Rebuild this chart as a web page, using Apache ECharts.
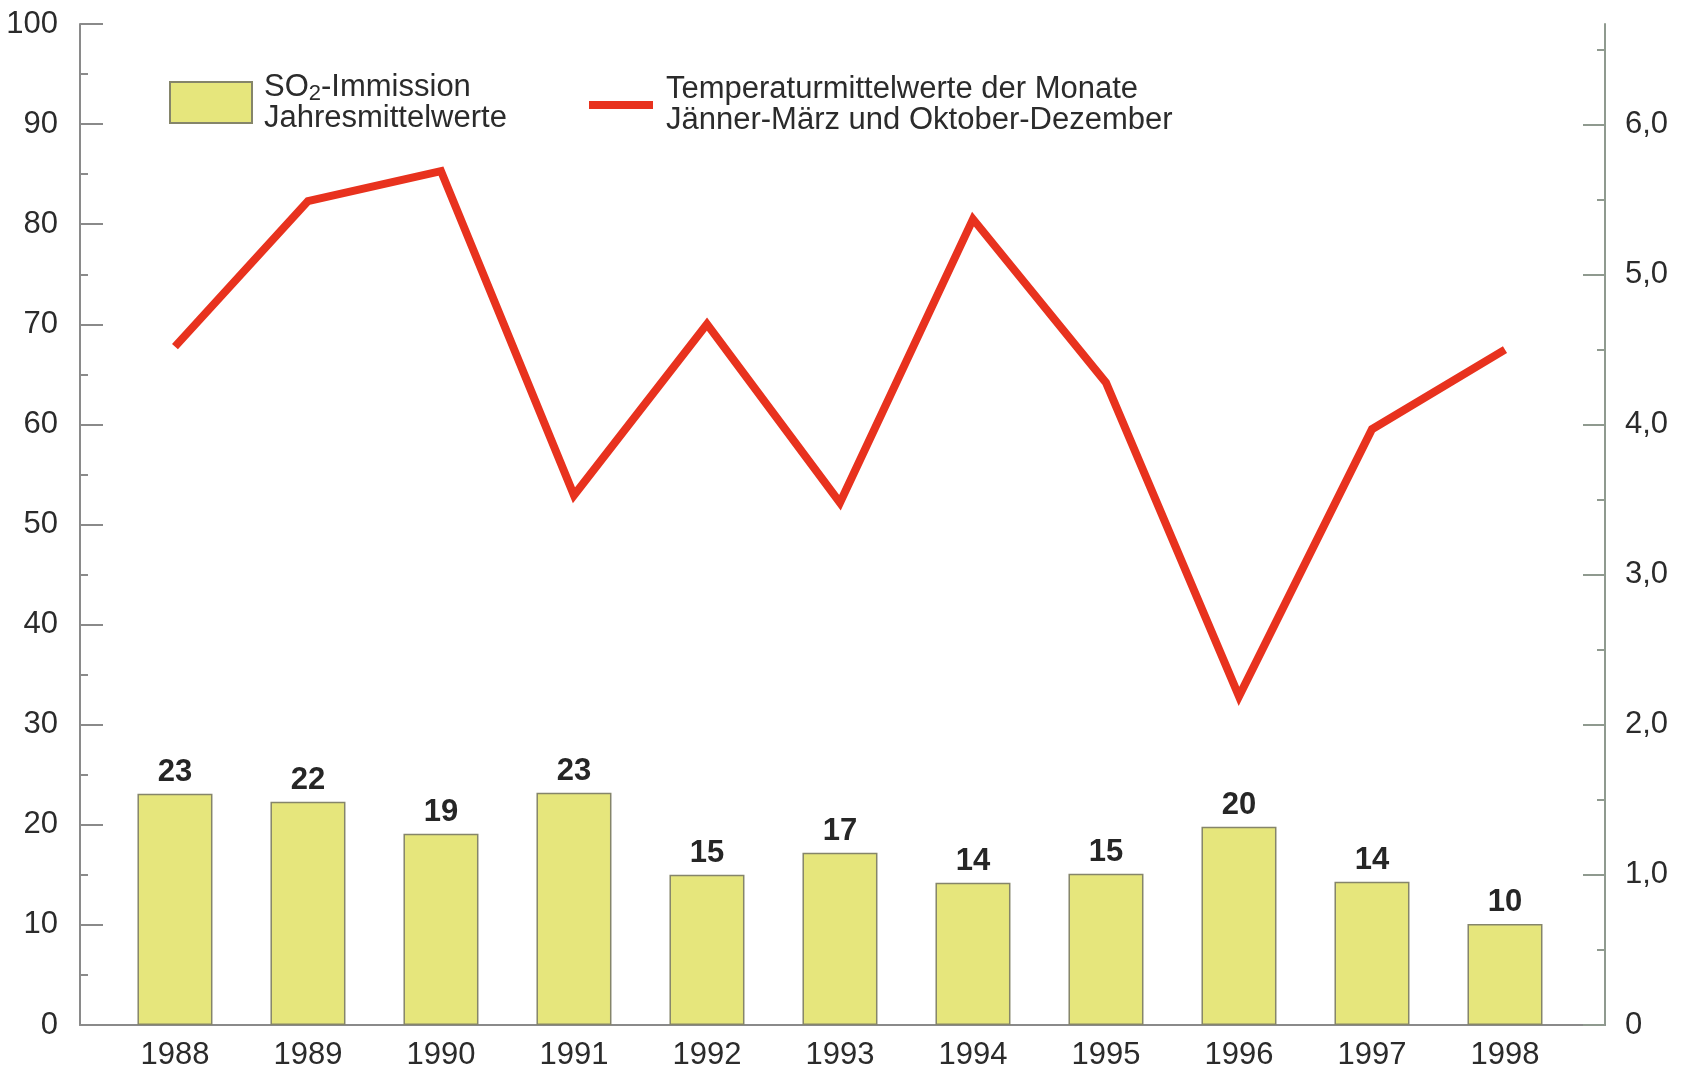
<!DOCTYPE html>
<html>
<head>
<meta charset="utf-8">
<script src="https://cdn.jsdelivr.net/npm/echarts@6/dist/echarts.min.js"></script>
<style>
  html, body { margin: 0; padding: 0; background: #fff; }
  #chart { width: 1687px; height: 1076px; }
</style>
</head>
<body>
<div id="chart"></div>
<script>
// Jahre
var years = ['1988', '1989', '1990', '1991', '1992', '1993', '1994', '1995', '1996', '1997', '1998'];
// SO2-Immission Jahresmittelwerte (linke Achse)
var so2 = [23.1, 22.3, 19.1, 23.2, 15.0, 17.2, 14.2, 15.1, 19.8, 14.3, 10.1];
// Temperaturmittelwerte (rechte Achse)
var temp = [4.52, 5.49, 5.69, 3.53, 4.67, 3.48, 5.37, 4.28, 2.19, 3.97, 4.50];
// Achsenbeschriftungen
var leftTicks = [0, 10, 20, 30, 40, 50, 60, 70, 80, 90, 100];
var rightTicks = [0, 1, 2, 3, 4, 5, 6];

var font = 'Liberation Sans, Arial, Helvetica, sans-serif';
var chart = echarts.init(document.getElementById('chart'));

var idx = years.map(function (y, i) { return i; });

var option = {
    animation: false,
    backgroundColor: '#fff',
    textStyle: { fontFamily: font },
    grid: { left: 80, right: 82, top: 24, bottom: 51, containLabel: false },
    legend: [
        {
            // Balken
            left: 164, top: 64,
            icon: 'rect',
            itemWidth: 82, itemHeight: 41,
            data: ['SO2'],
            formatter: function () {
                return '{a|SO}{sub|2}{a|-Immission}\n{a|Jahresmittelwerte}';
            },
            textStyle: {
                color: '#2b2b2b', fontFamily: font, padding: [0, 0, 0, 7],
                rich: {
                    a: { fontSize: 31, lineHeight: 31, fontFamily: font, color: '#2b2b2b' },
                    sub: { fontSize: 22, lineHeight: 31, padding: [14, 0, 0, 0], fontFamily: font, color: '#2b2b2b' }
                }
            }
        },
        {
            // Linie
            left: 584, top: 69,
            icon: 'rect',
            itemWidth: 64, itemHeight: 8,
            data: ['Temp'],
            formatter: function () {
                return 'Temperaturmittelwerte der Monate\nJänner-März und Oktober-Dezember';
            },
            textStyle: { color: '#2b2b2b', fontSize: 31, lineHeight: 31, fontFamily: font, padding: [0, 0, 0, 8] }
        }
    ],
    xAxis: {
        type: 'value',
        min: -0.714,
        max: 10.752,
        axisLine: { show: true, onZero: false, lineStyle: { color: '#8a8a8a', width: 2 } },
        axisTick: { show: false },
        splitLine: { show: false },
        axisLabel: {
            customValues: idx,
            margin: 15,
            fontSize: 31,
            color: '#2b2b2b',
            formatter: function (v) { return years[Math.round(v)]; }
        }
    },
    yAxis: [
        {
            type: 'value',
            min: 0, max: 100, interval: 10,
            position: 'left',
            axisLine: { show: true, onZero: false, lineStyle: { color: '#8a8a8a', width: 2 } },
            axisTick: { show: true, inside: true, length: 23, lineStyle: { color: '#8a8a8a', width: 2 } },
            minorTick: { show: true, splitNumber: 2, length: 8, lineStyle: { color: '#8a8a8a', width: 2 } },
            splitLine: { show: false },
            axisLabel: { margin: 22, fontSize: 31, color: '#2b2b2b',
                formatter: function (v) { return leftTicks.indexOf(v) >= 0 ? String(v) : ''; } }
        },
        {
            type: 'value',
            min: 0, max: 6.67, interval: 1,
            position: 'right',
            axisLine: { show: true, onZero: false, lineStyle: { color: '#8f9a8f', width: 2 } },
            axisTick: { show: true, inside: true, length: 22, customValues: rightTicks, lineStyle: { color: '#8f9a8f', width: 2 } },
            minorTick: { show: true, splitNumber: 2, length: 8, lineStyle: { color: '#8f9a8f', width: 2 } },
            splitLine: { show: false },
            axisLabel: { margin: 20, fontSize: 31, color: '#2b2b2b', customValues: rightTicks,
                formatter: function (v) {
                    return v === 0 ? '0' : v.toFixed(1).replace('.', ',');
                } }
        }
    ],
    series: [
        {
            name: 'SO2',
            type: 'bar',
            yAxisIndex: 0,
            barWidth: 75,
            data: so2.map(function (v, i) { return [i, v]; }),
            itemStyle: { color: '#e6e67c', borderColor: '#85856a', borderWidth: 1.5 },
            label: {
                show: true, position: 'top', distance: 6,
                fontSize: 31, fontWeight: 'bold', color: '#262626', fontFamily: font,
                formatter: function (p) { return Math.round(p.value[1]); }
            }
        },
        {
            name: 'Temp',
            type: 'line',
            yAxisIndex: 1,
            symbol: 'none',
            data: temp.map(function (v, i) { return [i, v]; }),
            lineStyle: { color: '#e8321e', width: 8, join: 'miter' },
            itemStyle: { color: '#e8321e' },
            z: 3
        }
    ]
};

chart.setOption(option);
</script>
</body>
</html>
